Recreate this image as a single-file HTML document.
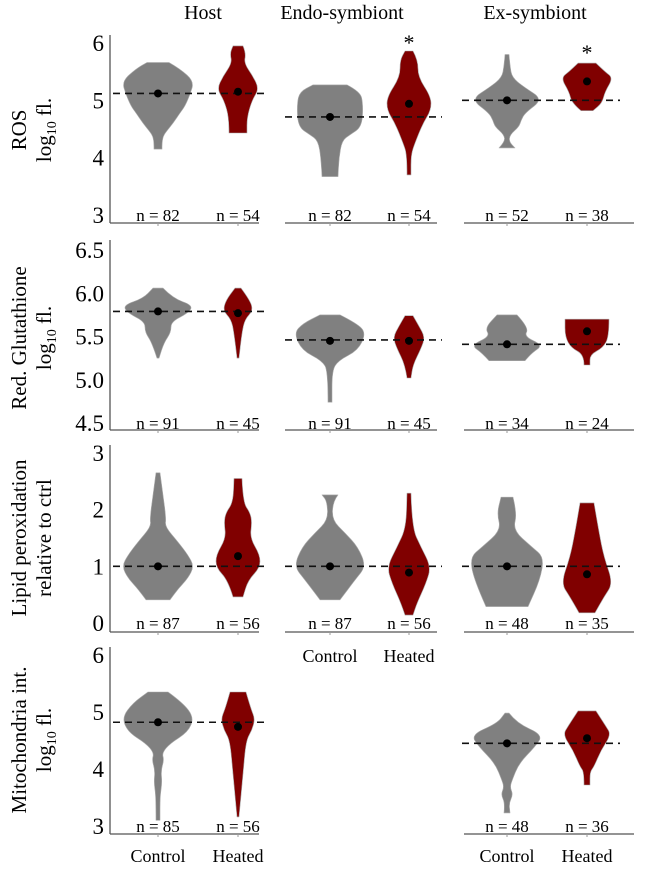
<!DOCTYPE html>
<html><head><meta charset="utf-8">
<style>
html,body{margin:0;padding:0;background:#fff;}
svg text{font-family:"Liberation Serif",serif;fill:#000;}
</style></head>
<body>
<svg id="chart" width="662" height="864" viewBox="0 0 662 864" xmlns="http://www.w3.org/2000/svg" font-family="Liberation Serif, serif"></svg>
<script>
// ---- data ----
const rowTitles = [["ROS","log10 fl."],["Red. Glutathione","log10 fl."],["Lipid peroxidation","relative to ctrl"],["Mitochondria int.","log10 fl."]];
const colTitles = ["Host","Endo-symbiont","Ex-symbiont"];
const categories = ["Control","Heated"];
const ticksRow1 = [3,4,5,6];
const ticksRow2 = ["4.5","5.0","5.5","6.0","6.5"];
const ticksRow3 = [0,1,2,3];
const ticksRow4 = [3,4,5,6];

// violin profiles: [value, density]
const ros_host_ctrl = [[5.66,11],[5.55,22],[5.33,36],[5.1,32],[4.9,27],[4.78,22],[4.6,15],[4.45,8],[4.37,5],[4.25,4],[4.15,4]];
const ros_host_heat = [[5.95,5],[5.82,8],[5.65,6],[5.42,15],[5.2,21],[5.0,14],[4.7,9],[4.43,9]];
const ros_endo_ctrl = [[5.27,17],[5.15,30],[4.95,33],[4.54,32],[4.4,20],[4.3,12],[4.0,9],[3.67,8]];
const ros_endo_heat = [[5.86,4],[5.7,9],[5.41,9],[5.06,22],[4.83,22],[4.6,14],[4.26,6],[4.05,2],[3.7,2]];
const ros_ex_ctrl = [[5.8,2],[5.6,3],[5.4,5],[5.23,17],[5.02,36],[4.78,18],[4.65,14],[4.54,12],[4.4,3],[4.28,2],[4.17,8]];
const ros_ex_heat = [[5.65,9],[5.5,18],[5.39,26],[5.15,18],[4.95,15],[4.82,6]];
const gsh_host_ctrl = [[6.06,5],[5.94,15],[5.86,35],[5.77,30],[5.67,13],[5.55,13],[5.43,6],[5.25,1]];
const gsh_host_heat = [[6.06,3],[5.92,12],[5.8,15],[5.7,7],[5.55,4],[5.25,1]];
const gsh_endo_ctrl = [[5.75,10],[5.65,27],[5.54,36],[5.34,28],[5.22,8],[5.1,2],[4.74,2]];
const gsh_endo_heat = [[5.74,4],[5.62,10],[5.49,16],[5.36,12],[5.17,4],[5.02,2]];
const gsh_ex_ctrl = [[5.75,10],[5.6,22],[5.5,17],[5.4,36],[5.31,25],[5.22,18]];
const gsh_ex_heat = [[5.7,22],[5.5,22],[5.37,16],[5.29,3],[5.17,3]];
const lip_host_ctrl = [[2.65,2],[2.26,5],[1.85,8],[1.7,7],[1.43,20],[1.2,30],[1.0,36],[0.79,30],[0.6,20],[0.41,12]];
const lip_host_heat = [[2.55,4],[2.13,5],[1.95,12],[1.78,14],[1.5,12],[1.2,22],[0.98,22],[0.75,10],[0.46,5]];
const lip_endo_ctrl = [[2.26,8],[2.15,3],[1.82,2],[1.59,15],[1.34,28],[1.0,36],[0.76,25],[0.41,10]];
const lip_endo_heat = [[2.29,2],[1.68,3],[1.34,12],[0.99,22],[0.7,17],[0.35,8],[0.14,4]];
const lip_ex_ctrl = [[2.22,6],[1.93,10],[1.64,6],[1.34,25],[1.16,37],[0.76,33],[0.29,21]];
const lip_ex_heat = [[2.12,7],[1.6,12],[1.16,17],[0.7,26],[0.46,17],[0.18,8]];
const mit_host_ctrl = [[5.35,10],[5.16,25],[4.9,36],[4.65,30],[4.45,12],[4.28,4],[4.16,6],[3.98,3],[3.75,4],[3.52,2],[3.1,2]];
const mit_host_heat = [[5.35,8],[5.05,13],[4.88,17],[4.68,14],[4.5,8],[3.9,5],[3.16,1]];
const mit_ex_ctrl = [[4.98,2],[4.8,10],[4.6,36],[4.39,28],[4.1,12],[3.8,5],[3.68,3],[3.55,6],[3.4,2],[3.23,3]];
const mit_ex_heat = [[5.02,9],[4.75,19],[4.6,24],[4.33,14],[4.04,7],[3.95,3],[3.72,3]];

const means_ros = [[5.12,5.15],[4.71,4.94],[5.0,5.33]];
const means_gsh = [[5.79,5.77],[5.45,5.45],[5.41,5.56]];
const means_lip = [[1.0,1.18],[1.0,0.89],[1.0,0.86]];
const means_mit = [[4.82,4.74],null,[4.45,4.54]];
const ref_ros = [5.12,4.71,5.0];
const ref_gsh = [5.79,5.46,5.41];
const ref_lip = [1.0,1.0,1.0];
const ref_mit = [4.82,null,4.45];
const n_ros = [[82,54],[82,54],[52,38]];
const n_gsh = [[91,45],[91,45],[34,24]];
const n_lip = [[87,56],[87,56],[48,35]];
const n_mit = [[85,56],null,[48,36]];
const sig_ros = [[false,false],[false,true],[false,true]];

// ---- layout ----
const svg = document.getElementById('chart');
const NS = 'http://www.w3.org/2000/svg';
const FF = '"Liberation Serif", serif';
function mk(tag, attrs, parent){const e=document.createElementNS(NS,tag);for(const k in attrs)e.setAttribute(k,attrs[k]);if(tag==='text')e.style.fontFamily=FF;(parent||svg).appendChild(e);return e;}

function smoothPath(pts){
 // pts: array of [x,y]; closed smooth path via midpoint quadratics, keeping first and last segments straight-ish
 let d='M'+pts[0][0].toFixed(1)+','+pts[0][1].toFixed(1);
 for(let i=1;i<pts.length-1;i++){
  const mx=(pts[i][0]+pts[i+1][0])/2, my=(pts[i][1]+pts[i+1][1])/2;
  d+='Q'+pts[i][0].toFixed(1)+','+pts[i][1].toFixed(1)+' '+mx.toFixed(1)+','+my.toFixed(1);
 }
 const L=pts[pts.length-1];
 d+='L'+L[0].toFixed(1)+','+L[1].toFixed(1)+'Z';
 return d;
}

const cols = [{l:110,r:259,c:[158,238],dl:113,dr:268},{l:285,r:437,c:[330,409],dl:285,dr:442},{l:464,r:634,c:[507,587],dl:462,dr:620}];
const rows = [
 {vmin:3,vmax:6,pmin:215,pmax:43,base:223,top:35,ticks:ticksRow1,viol:[[ros_host_ctrl,ros_host_heat],[ros_endo_ctrl,ros_endo_heat],[ros_ex_ctrl,ros_ex_heat]],means:means_ros,ref:ref_ros,n:n_ros,cy:130},
 {vmin:4.5,vmax:6.5,pmin:423,pmax:250,base:430,top:240,ticks:ticksRow2,viol:[[gsh_host_ctrl,gsh_host_heat],[gsh_endo_ctrl,gsh_endo_heat],[gsh_ex_ctrl,gsh_ex_heat]],means:means_gsh,ref:ref_gsh,n:n_gsh,cy:338},
 {vmin:0,vmax:3,pmin:623,pmax:453,base:632,top:445,ticks:ticksRow3,viol:[[lip_host_ctrl,lip_host_heat],[lip_endo_ctrl,lip_endo_heat],[lip_ex_ctrl,lip_ex_heat]],means:means_lip,ref:ref_lip,n:n_lip,cy:538},
 {vmin:3,vmax:6,pmin:826,pmax:655,base:834,top:647,ticks:ticksRow4,viol:[[mit_host_ctrl,mit_host_heat],null,[mit_ex_ctrl,mit_ex_heat]],means:means_mit,ref:ref_mit,n:n_mit,cy:740}
];
const fills = ['#808080','#800000'];

const colX=[203,342,535];
colTitles.forEach((t,i)=>{
 const e=mk('text',{x:colX[i],y:19,'text-anchor':'middle','font-size':20});
 
 
 e.textContent=t;
});

rows.forEach((R,ri)=>{
 const y=v=>R.pmin+(v-R.vmin)*(R.pmax-R.pmin)/(R.vmax-R.vmin);
 const tl=rowTitles[ri];
 const t1=mk('text',{transform:`translate(26,${R.cy}) rotate(-90)`,'text-anchor':'middle','font-size':21});
 
 
 t1.textContent=tl[0];
 const t2=mk('text',{transform:`translate(51,${R.cy}) rotate(-90)`,'text-anchor':'middle','font-size':21});
 
 
 if(tl[1]==='log10 fl.'){t2.innerHTML='log<tspan font-size="14" dy="5">10</tspan><tspan dy="-5"> fl.</tspan>';}
 else t2.textContent=tl[1];
 const ya=mk('line',{x1:110,x2:110,y1:R.top,y2:R.base,stroke:'#555','stroke-width':1.3});
 
 
 R.ticks.forEach(tv=>{
  const e=mk('text',{x:104,y:y(+tv)+8,'text-anchor':'end','font-size':23});
  
  
  e.textContent=tv;
 });
 cols.forEach((C,ci)=>{
  if(!R.viol[ci]) return;
  const xa=mk('line',{x1:C.l,x2:C.r,y1:R.base,y2:R.base,stroke:'#555','stroke-width':1.3});
  
  
  C.c.forEach(cx=>{mk('line',{x1:cx,x2:cx,y1:R.base,y2:R.base+3,stroke:'#999','stroke-width':1});});
  R.viol[ci].forEach((prof,k)=>{
   const cx=C.c[k];
   const pts=[[cx,y(prof[0][0])]];
   prof.forEach(p=>pts.push([cx+p[1],y(p[0])]));
   pts.push([cx,y(prof[prof.length-1][0])]);
   for(let i=prof.length-1;i>=0;i--) pts.push([cx-prof[i][1],y(prof[i][0])]);
   // polygon with smoothing: first point is top center
   let d='M'+(cx-prof[0][1]).toFixed(1)+','+y(prof[0][0]).toFixed(1)+'L'+(cx+prof[0][1]).toFixed(1)+','+y(prof[0][0]).toFixed(1);
   const right=prof.map(p=>[cx+p[1],y(p[0])]);
   const left=prof.slice().reverse().map(p=>[cx-p[1],y(p[0])]);
   const side=(arr)=>{let s='';for(let i=1;i<arr.length-1;i++){const mx=(arr[i][0]+arr[i+1][0])/2,my=(arr[i][1]+arr[i+1][1])/2;s+='Q'+arr[i][0].toFixed(1)+','+arr[i][1].toFixed(1)+' '+mx.toFixed(1)+','+my.toFixed(1);}const L=arr[arr.length-1];return s+'L'+L[0].toFixed(1)+','+L[1].toFixed(1);};
   d+=side(right);
   d+='L'+left[0][0].toFixed(1)+','+left[0][1].toFixed(1);
   d+=side(left)+'Z';
   const v=mk('path',{d:d,fill:fills[k],stroke:'#aaa','stroke-width':0.6,'stroke-linejoin':'round'});
   
   
  });
  const rl=mk('line',{x1:C.dl,x2:C.dr,y1:y(R.ref[ci]),y2:y(R.ref[ci]),stroke:'#111','stroke-width':1.6,'stroke-dasharray':'7,5'});
  
  
  R.means[ci].forEach((m,k)=>{
   const dot=mk('circle',{cx:C.c[k],cy:y(m),r:4,fill:'#000'});
   
   
   const nt=mk('text',{x:C.c[k],y:y(R.vmin)+6,'text-anchor':'middle','font-size':17});
   
   
   nt.textContent='n = '+R.n[ci][k];
   if(ri===0 && sig_ros[ci][k]){
    const s=mk('text',{x:C.c[k],y:ci===1?50:60,'text-anchor':'middle','font-size':22});
    
    
    s.textContent='*';
   }
  });
 });
});
[[0,862],[1,662],[2,862]].forEach(([ci,yy])=>{
 categories.forEach((c,k)=>{
  const e=mk('text',{x:cols[ci].c[k],y:yy,'text-anchor':'middle','font-size':18});
  
  
  e.textContent=c;
 });
});
</script>
</body></html>
